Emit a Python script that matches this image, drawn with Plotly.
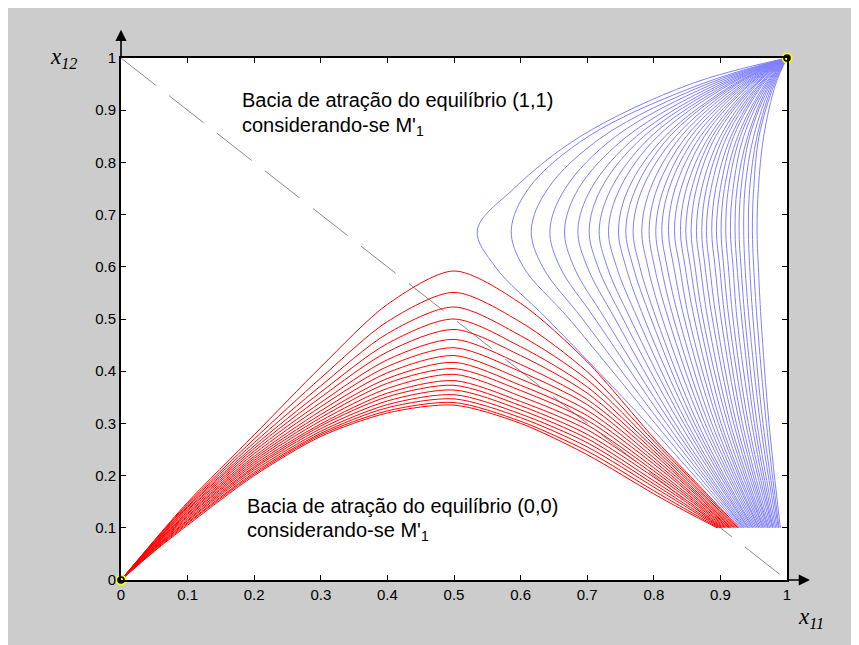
import plotly.graph_objects as go

# ---------------- data ----------------
X_TICKS = [0, 0.1, 0.2, 0.3, 0.4, 0.5, 0.6, 0.7, 0.8, 0.9, 1]
X_TICK_LABELS = ["0", "0.1", "0.2", "0.3", "0.4", "0.5", "0.6", "0.7", "0.8", "0.9", "1"]
Y_TICKS = [0, 0.1, 0.2, 0.3, 0.4, 0.5, 0.6, 0.7, 0.8, 0.9, 1]
Y_TICK_LABELS = ["0", "0.1", "0.2", "0.3", "0.4", "0.5", "0.6", "0.7", "0.8", "0.9", "1"]

# red trajectories (converge to (0,0)): y read at shared x grid, start point at y = 0.1
RED_X = [0, 0.05, 0.1, 0.2, 0.3, 0.4, 0.5, 0.6, 0.7, 0.8, 0.85]
RED_START_Y = 0.1
RED_START_X = [0.895, 0.897, 0.899, 0.901, 0.903, 0.905, 0.907, 0.909, 0.911,
               0.913, 0.914, 0.916, 0.918, 0.920, 0.922, 0.924, 0.926, 0.928]
RED_Y = [
    [0, 0.055, 0.105, 0.200, 0.275, 0.320, 0.335, 0.300, 0.240, 0.165, 0.130],
    [0, 0.056, 0.108, 0.203, 0.278, 0.324, 0.340, 0.304, 0.247, 0.171, 0.134],
    [0, 0.058, 0.110, 0.206, 0.281, 0.330, 0.347, 0.311, 0.255, 0.178, 0.139],
    [0, 0.059, 0.113, 0.210, 0.285, 0.336, 0.355, 0.318, 0.263, 0.184, 0.143],
    [0, 0.060, 0.115, 0.214, 0.290, 0.343, 0.364, 0.326, 0.271, 0.190, 0.148],
    [0, 0.061, 0.118, 0.217, 0.295, 0.351, 0.373, 0.334, 0.279, 0.197, 0.152],
    [0, 0.062, 0.121, 0.221, 0.299, 0.358, 0.382, 0.342, 0.288, 0.203, 0.157],
    [0, 0.064, 0.123, 0.225, 0.305, 0.367, 0.394, 0.352, 0.297, 0.209, 0.161],
    [0, 0.065, 0.126, 0.229, 0.311, 0.377, 0.405, 0.363, 0.306, 0.215, 0.165],
    [0, 0.066, 0.128, 0.233, 0.317, 0.386, 0.417, 0.373, 0.315, 0.222, 0.170],
    [0, 0.067, 0.131, 0.237, 0.324, 0.397, 0.430, 0.385, 0.325, 0.228, 0.174],
    [0, 0.069, 0.134, 0.242, 0.332, 0.409, 0.445, 0.399, 0.336, 0.234, 0.179],
    [0, 0.070, 0.136, 0.247, 0.340, 0.422, 0.461, 0.413, 0.346, 0.241, 0.183],
    [0, 0.071, 0.139, 0.252, 0.350, 0.437, 0.480, 0.430, 0.358, 0.247, 0.187],
    [0, 0.072, 0.141, 0.257, 0.360, 0.453, 0.500, 0.447, 0.370, 0.253, 0.192],
    [0, 0.074, 0.144, 0.263, 0.372, 0.472, 0.523, 0.468, 0.384, 0.259, 0.196],
    [0, 0.075, 0.146, 0.270, 0.387, 0.495, 0.551, 0.494, 0.399, 0.266, 0.201],
    [0, 0.076, 0.149, 0.278, 0.408, 0.528, 0.592, 0.530, 0.418, 0.272, 0.205],
]

# blue trajectories (converge to (1,1)): x read at shared y grid
BLUE_Y = [0.1, 0.3, 0.5, 0.6, 0.67, 0.75, 0.85, 0.95, 1.0]
BLUE_X = [
    [0.930, 0.790, 0.640, 0.562, 0.535, 0.590, 0.690, 0.855, 1.0],
    [0.932, 0.802, 0.673, 0.604, 0.586, 0.612, 0.702, 0.871, 1.0],
    [0.934, 0.811, 0.693, 0.633, 0.616, 0.641, 0.724, 0.880, 1.0],
    [0.935, 0.819, 0.712, 0.659, 0.644, 0.667, 0.743, 0.888, 1.0],
    [0.937, 0.826, 0.727, 0.680, 0.666, 0.687, 0.760, 0.895, 1.0],
    [0.939, 0.832, 0.742, 0.700, 0.686, 0.706, 0.774, 0.901, 1.0],
    [0.941, 0.839, 0.754, 0.716, 0.703, 0.721, 0.785, 0.906, 1.0],
    [0.942, 0.845, 0.765, 0.730, 0.718, 0.736, 0.796, 0.911, 1.0],
    [0.944, 0.850, 0.776, 0.744, 0.732, 0.749, 0.806, 0.915, 1.0],
    [0.946, 0.856, 0.786, 0.758, 0.747, 0.762, 0.817, 0.920, 1.0],
    [0.948, 0.861, 0.796, 0.769, 0.758, 0.773, 0.824, 0.923, 1.0],
    [0.949, 0.866, 0.804, 0.779, 0.769, 0.783, 0.833, 0.926, 1.0],
    [0.951, 0.872, 0.813, 0.791, 0.782, 0.795, 0.841, 0.930, 1.0],
    [0.953, 0.877, 0.822, 0.801, 0.793, 0.805, 0.849, 0.934, 1.0],
    [0.955, 0.882, 0.830, 0.811, 0.803, 0.815, 0.856, 0.937, 1.0],
    [0.957, 0.887, 0.838, 0.820, 0.812, 0.823, 0.863, 0.940, 1.0],
    [0.958, 0.892, 0.846, 0.830, 0.822, 0.832, 0.870, 0.943, 1.0],
    [0.960, 0.897, 0.853, 0.839, 0.831, 0.841, 0.876, 0.945, 1.0],
    [0.962, 0.901, 0.861, 0.847, 0.840, 0.849, 0.883, 0.948, 1.0],
    [0.964, 0.906, 0.868, 0.855, 0.848, 0.857, 0.888, 0.951, 1.0],
    [0.965, 0.911, 0.874, 0.862, 0.856, 0.864, 0.893, 0.953, 1.0],
    [0.967, 0.915, 0.881, 0.870, 0.864, 0.872, 0.900, 0.955, 1.0],
    [0.969, 0.920, 0.888, 0.877, 0.872, 0.879, 0.905, 0.958, 1.0],
    [0.971, 0.924, 0.894, 0.884, 0.879, 0.886, 0.910, 0.960, 1.0],
    [0.972, 0.929, 0.901, 0.892, 0.887, 0.893, 0.916, 0.962, 1.0],
    [0.974, 0.933, 0.907, 0.899, 0.894, 0.900, 0.920, 0.964, 1.0],
    [0.976, 0.938, 0.913, 0.905, 0.901, 0.906, 0.926, 0.967, 1.0],
    [0.978, 0.942, 0.919, 0.912, 0.908, 0.912, 0.930, 0.969, 1.0],
    [0.979, 0.947, 0.925, 0.919, 0.915, 0.919, 0.935, 0.971, 1.0],
    [0.981, 0.951, 0.932, 0.925, 0.922, 0.925, 0.941, 0.973, 1.0],
    [0.983, 0.955, 0.937, 0.931, 0.928, 0.931, 0.944, 0.975, 1.0],
    [0.985, 0.960, 0.943, 0.937, 0.935, 0.937, 0.950, 0.977, 1.0],
    [0.987, 0.964, 0.949, 0.944, 0.942, 0.944, 0.955, 0.979, 1.0],
    [0.988, 0.969, 0.955, 0.950, 0.948, 0.950, 0.958, 0.981, 1.0],
    [0.990, 0.973, 0.961, 0.957, 0.955, 0.957, 0.965, 0.983, 1.0],
]

DIAG_X = [0, 1]
DIAG_Y = [1, 0]
EQ_X = [0, 1]
EQ_Y = [0, 1]

# ---------------- figure ----------------
fig = go.Figure()

fig.add_trace(go.Scatter(x=DIAG_X, y=DIAG_Y, mode="lines",
                         line=dict(color="#8a8a8a", width=1, dash="44px,17px"),
                         hoverinfo="skip", showlegend=False))

for ys, x0 in zip(RED_Y, RED_START_X):
    fig.add_trace(go.Scatter(x=RED_X + [x0], y=ys + [RED_START_Y], mode="lines",
                             line=dict(color="#ff0000", width=1, shape="spline", smoothing=0.8),
                             hoverinfo="skip", showlegend=False))

for xs in BLUE_X:
    fig.add_trace(go.Scatter(x=xs, y=BLUE_Y, mode="lines",
                             line=dict(color="#8080ff", width=1, shape="spline", smoothing=1.0),
                             hoverinfo="skip", showlegend=False))

fig.add_trace(go.Scatter(x=EQ_X, y=EQ_Y, mode="markers", cliponaxis=False,
                         marker=dict(symbol="circle", size=11, color="#ffff00"),
                         hoverinfo="skip", showlegend=False))
fig.add_trace(go.Scatter(x=EQ_X, y=EQ_Y, mode="markers", cliponaxis=False,
                         marker=dict(symbol="circle-open", size=6, color="black",
                                     line=dict(width=1.6, color="black")),
                         hoverinfo="skip", showlegend=False))

FONT = "Arial, Liberation Sans, Helvetica, sans-serif"
SERIF = "Times New Roman, Liberation Serif, serif"
axis_common = dict(range=[0, 1], showgrid=False, zeroline=False, showline=True,
                   linecolor="black", linewidth=2, mirror="ticks", ticks="inside",
                   ticklen=5, tickwidth=1, tickcolor="black",
                   tickfont=dict(family=FONT, size=15, color="black"), fixedrange=True)

# the page shows the figure shifted by the 8px body margin
fig.update_layout(
    width=859, height=645, autosize=False,
    margin=dict(l=113, r=80, t=50, b=73),
    paper_bgcolor="#cccccc", plot_bgcolor="white",
    xaxis=dict(tickvals=X_TICKS, ticktext=X_TICK_LABELS, **axis_common),
    yaxis=dict(tickvals=Y_TICKS, ticktext=Y_TICK_LABELS, **axis_common),
    showlegend=False,
)

ann_font = dict(family=FONT, size=20, color="black")
annotations = [
    dict(x=0.179, y=0.92, xref="x", yref="y", xanchor="left", yanchor="middle",
         text="Bacia de atração do equilíbrio (1,1)", showarrow=False, font=ann_font),
    dict(x=0.179, y=0.869, xref="x", yref="y", xanchor="left", yanchor="middle",
         text="considerando-se M'<sub>1</sub>", showarrow=False, font=ann_font),
    dict(x=0.186, y=0.142, xref="x", yref="y", xanchor="left", yanchor="middle",
         text="Bacia de atração do equilíbrio (0,0)", showarrow=False, font=ann_font),
    dict(x=0.186, y=0.092, xref="x", yref="y", xanchor="left", yanchor="middle",
         text="considerando-se M'<sub>1</sub>", showarrow=False, font=ann_font),
    # axis titles
    dict(x=-0.110, y=1.0, xref="paper", yref="paper", xanchor="left", yanchor="middle",
         text="<i>x</i><sub><i>12</i></sub>", showarrow=False,
         font=dict(family=SERIF, size=23, color="black")),
    dict(x=1.014, y=-0.072, xref="paper", yref="paper", xanchor="left", yanchor="middle",
         text="<i>x</i><sub><i>11</i></sub>", showarrow=False,
         font=dict(family=SERIF, size=23, color="black")),
    # axis arrows
    dict(x=0, y=1.054, xref="paper", yref="paper", ax=0, ay=28, axref="pixel", ayref="pixel",
         showarrow=True, arrowhead=2, arrowsize=1.4, arrowwidth=1.6, arrowcolor="black", text=""),
    dict(x=1.0345, y=0, xref="paper", yref="paper", ax=-23, ay=0, axref="pixel", ayref="pixel",
         showarrow=True, arrowhead=2, arrowsize=1.4, arrowwidth=1.6, arrowcolor="black", text=""),
]
fig.update_layout(annotations=annotations)

fig.write_html("out.html")
